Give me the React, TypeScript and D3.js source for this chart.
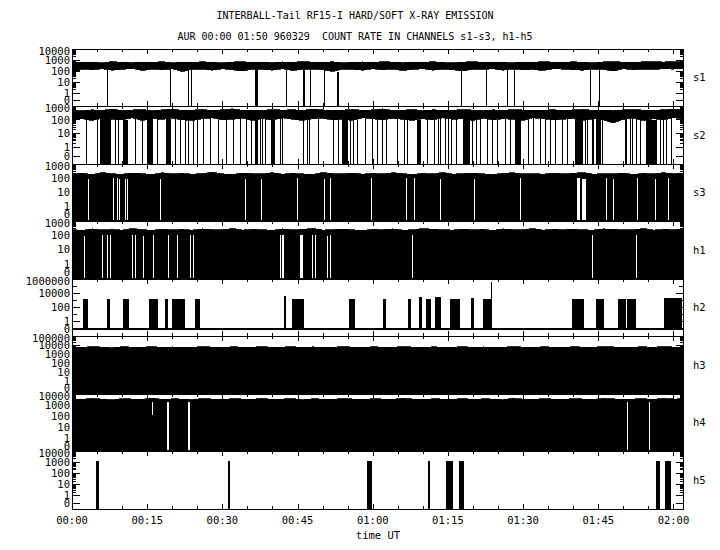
import React from "react";
import * as d3 from "d3";

// ---------- data ----------
const channels = ["s1", "s2", "s3", "h1", "h2", "h3", "h4", "h5"];
const tickLabelsX = ["00:00", "00:15", "00:30", "00:45", "01:00", "01:15", "01:30", "01:45", "02:00"];
const tickMinutesX = [0, 15, 30, 45, 60, 75, 90, 105, 120];
const T_END = 122.1; // minutes
const BIN = 2; // minutes per envelope sample

const yTicksS1 = [0, 1, 10, 100, 1000, 10000];
const yTicksS2 = [0, 1, 10, 100, 1000];
const yTicksS3 = [0, 1, 10, 100, 1000];
const yTicksH1 = [0, 1, 10, 100, 1000];
const yTicksH2 = [0, 1, 100, 10000, 1000000];
const yTicksH3 = [0, 1, 10, 100, 1000, 10000, 100000];
const yTicksH4 = [0, 1, 10, 100, 1000, 10000];
const yTicksH5 = [0, 1, 10, 100, 1000, 10000];

// s1: noisy band (upper / lower envelope, counts, every 2 min)
const s1Hi = [700, 600, 650, 550, 700, 620, 580, 650, 600, 700, 560, 640, 600, 680, 620, 560, 650, 700, 600, 640, 580, 660, 620, 700, 640, 600, 680, 560, 620, 660, 600, 700, 640, 580, 650, 620, 680, 600, 560, 640, 700, 620, 660, 600, 580, 650, 620, 700, 640, 600, 680, 620, 560, 660, 700, 640, 600, 680, 720, 650, 700, 680];
const s1Lo = [60, 150, 130, 160, 120, 140, 170, 110, 150, 130, 160, 90, 140, 150, 120, 160, 130, 100, 150, 140, 120, 160, 110, 140, 150, 130, 90, 150, 140, 120, 160, 130, 150, 110, 140, 160, 120, 150, 130, 100, 150, 140, 160, 120, 150, 130, 140, 110, 160, 150, 130, 120, 150, 140, 100, 160, 130, 150, 140, 160, 150, 170];
// s1 drop-outs to zero: [start, end] minutes
const s1Drops = [[7.0, 7.0], [19.6, 19.6], [23.1, 23.1], [23.7, 23.7], [36.6, 37.0], [42.6, 42.6], [46.0, 46.3], [47.5, 47.5], [50.3, 50.3], [52.8, 53.1], [77.7, 77.7], [82.6, 82.6], [86.8, 86.8], [88.2, 88.2], [103.4, 103.4], [105.2, 105.2]];

// s2: noisy band + many drop-outs
const s2Hi = [500, 450, 520, 480, 600, 470, 510, 550, 460, 520, 600, 480, 500, 560, 470, 530, 620, 490, 510, 470, 560, 500, 530, 480, 600, 520, 470, 500, 560, 490, 520, 610, 480, 500, 540, 470, 520, 500, 480, 560, 500, 470, 520, 490, 540, 510, 480, 500, 530, 470, 520, 560, 480, 500, 470, 520, 560, 500, 480, 530, 600, 520];
const s2Lo = [100, 120, 90, 130, 110, 100, 140, 90, 120, 110, 130, 100, 90, 120, 140, 100, 110, 130, 90, 120, 100, 140, 110, 90, 120, 130, 100, 110, 90, 140, 120, 100, 130, 110, 90, 120, 100, 140, 110, 120, 90, 130, 100, 120, 110, 90, 140, 120, 100, 110, 130, 90, 120, 100, 60, 110, 130, 90, 120, 100, 140, 120];
const s2Drops = [[2.7, 2.7], [4.9, 4.9], [5.6, 7.6], [8.6, 8.6], [9.2, 9.2], [10.2, 11.0], [12.6, 12.6], [13.9, 13.9], [14.9, 14.9], [15.2, 16.0], [16.9, 16.9], [18.7, 19.5], [20.5, 20.5], [21.5, 21.5], [22.5, 22.5], [23.1, 23.1], [24.1, 24.1], [24.9, 24.9], [26.1, 26.1], [27.5, 27.5], [29.1, 29.1], [30.7, 30.7], [32.1, 32.1], [33.5, 33.5], [34.7, 34.7], [35.7, 35.7], [36.5, 36.9], [37.5, 37.5], [38.0, 38.0], [38.6, 38.6], [39.8, 40.5], [41.5, 41.5], [41.8, 41.8], [46.0, 46.0], [46.9, 46.9], [47.3, 47.3], [49.1, 49.1], [52.1, 52.1], [53.0, 53.0], [53.8, 54.8], [55.5, 55.5], [56.1, 56.1], [56.8, 56.8], [58.4, 58.4], [59.8, 59.8], [60.9, 60.9], [61.8, 61.8], [62.6, 62.6], [64.8, 64.8], [66.3, 66.3], [66.8, 66.8], [68.9, 69.6], [70.8, 70.8], [72.3, 72.3], [73.1, 73.1], [73.4, 73.4], [74.4, 74.4], [75.1, 75.1], [75.7, 75.7], [76.7, 76.7], [78.1, 79.4], [79.9, 79.9], [80.7, 80.7], [81.4, 81.4], [82.8, 82.8], [83.7, 83.7], [84.7, 84.7], [86.4, 86.4], [87.4, 87.4], [88.4, 89.4], [90.9, 90.9], [92.0, 92.0], [93.4, 93.4], [94.4, 94.4], [95.3, 95.3], [96.3, 96.3], [97.7, 97.7], [98.7, 98.7], [100.3, 101.7], [102.3, 102.3], [102.8, 102.8], [103.7, 104.0], [104.5, 105.3], [105.7, 105.7], [110.3, 110.3], [110.6, 110.6], [111.3, 111.3], [111.8, 111.8], [112.5, 112.5], [113.3, 113.3], [114.6, 116.6], [117.3, 117.3], [117.9, 117.9], [118.6, 118.6], [119.6, 119.6]];

// s3: dense 0..top oscillation (filled), upper envelope and solid level, white gaps
const s3Hi = [200, 220, 180, 250, 200, 190, 230, 210, 180, 240, 200, 220, 190, 210, 260, 200, 180, 230, 210, 200, 240, 190, 220, 200, 180, 250, 210, 200, 230, 190, 220, 200, 240, 210, 180, 220, 200, 250, 190, 210, 230, 200, 180, 220, 240, 200, 210, 190, 230, 200, 220, 250, 190, 210, 200, 230, 180, 220, 200, 240, 210, 220];
const s3Lo = [90, 100, 85, 95, 100, 90, 95, 100, 85, 90, 100, 95, 90, 100, 85, 95, 100, 90, 95, 85, 100, 90, 95, 100, 90, 85, 100, 95, 90, 100, 95, 85, 90, 100, 95, 90, 100, 85, 95, 100, 90, 95, 85, 100, 90, 95, 100, 90, 85, 95, 100, 90, 95, 100, 85, 90, 95, 100, 90, 95, 100, 95];
const s3Gaps = [[3.1, 3.1], [8.2, 8.2], [8.9, 8.9], [9.4, 9.4], [10.6, 10.6], [10.9, 10.9], [17.6, 17.6], [34.6, 34.6], [37.8, 37.8], [44.8, 44.8], [50.3, 50.3], [51.5, 51.5], [59.6, 59.6], [66.6, 66.6], [68.2, 68.2], [73.4, 73.4], [80.2, 80.2], [89.4, 89.4], [100.8, 101.2], [101.7, 102.3], [106.5, 106.5], [108.0, 108.0], [112.8, 112.8], [116.4, 116.4], [118.9, 118.9]];

// h1
const h1Hi = [250, 220, 280, 240, 260, 230, 300, 250, 220, 270, 240, 260, 230, 280, 250, 240, 300, 230, 260, 250, 220, 280, 240, 260, 300, 230, 250, 270, 240, 220, 260, 250, 280, 230, 240, 300, 260, 250, 230, 270, 240, 260, 220, 280, 250, 240, 300, 230, 260, 250, 270, 240, 230, 280, 260, 250, 240, 300, 230, 260, 250, 270];
const h1Lo = [100, 95, 105, 100, 98, 102, 100, 96, 104, 100, 98, 100, 102, 96, 100, 104, 98, 100, 100, 96, 102, 100, 98, 104, 100, 96, 100, 102, 98, 100, 104, 96, 100, 100, 98, 102, 100, 96, 104, 100, 98, 100, 102, 96, 100, 104, 98, 100, 100, 96, 102, 100, 98, 104, 100, 96, 100, 102, 98, 100, 104, 100];
const h1Gaps = [[2.4, 2.4], [5.9, 5.9], [6.9, 6.9], [7.6, 7.6], [11.9, 11.9], [12.6, 12.6], [14.2, 14.2], [16.2, 16.2], [19.2, 19.2], [20.9, 20.9], [23.5, 23.5], [24.2, 24.2], [41.5, 41.5], [41.8, 41.8], [42.1, 42.1], [45.5, 46.0], [47.8, 47.8], [48.5, 48.5], [50.8, 50.8], [51.5, 51.5], [67.8, 67.8], [103.7, 103.7], [112.6, 112.6]];

// h2: mostly zero, bursts [start, end] minutes with peak level
const h2Bursts = [[2.1, 3.1], [6.9, 7.6], [10.2, 11.3], [15.4, 17.2], [18.6, 19.2], [19.9, 22.5], [24.5, 25.5], [42.3, 42.6], [43.8, 46.3], [55.3, 56.5], [62.1, 62.6], [67.0, 67.6], [69.3, 69.8], [70.6, 71.6], [72.4, 73.6], [75.4, 77.4], [79.6, 80.2], [82.0, 83.8], [99.7, 102.1], [104.5, 106.1], [109.0, 110.5], [110.8, 112.5], [118.1, 121.8]];
const h2BurstPeak = [1400, 1400, 1400, 1400, 1400, 1400, 1400, 3500, 1400, 1400, 1400, 1400, 2500, 1400, 2500, 1400, 2000, 1400, 1400, 1400, 1400, 1400, 1800];
const h2Spike = [83.7, 400000];

// h3
const h3Hi = [6000, 5500, 7000, 6000, 5200, 6500, 6000, 5800, 7000, 5500, 6200, 6000, 5600, 6800, 6000, 5400, 6400, 6000, 5800, 7000, 5600, 6000, 6600, 5500, 6200, 6000, 5800, 6800, 6000, 5500, 6400, 6000, 5700, 7000, 6000, 5600, 6300, 6000, 5800, 6800, 5500, 6200, 6000, 5600, 7000, 6000, 5800, 6400, 6000, 5500, 6600, 6000, 5800, 7000, 6200, 5600, 6000, 6400, 5800, 7000, 6000, 6200];
const h3Lo = [3500, 3400, 3600, 3500, 3300, 3500, 3600, 3400, 3500, 3500, 3300, 3600, 3500, 3400, 3500, 3600, 3500, 3300, 3500, 3400, 3600, 3500, 3500, 3300, 3600, 3500, 3400, 3500, 3600, 3500, 3300, 3500, 3400, 3600, 3500, 3500, 3300, 3600, 3500, 3400, 3500, 3600, 3500, 3300, 3500, 3400, 3600, 3500, 3500, 3300, 3600, 3500, 3400, 3500, 3600, 3500, 3300, 3500, 3400, 3600, 3500, 3500];

// h4
const h4Hi = [3500, 3200, 4000, 3400, 3000, 3800, 3500, 3300, 4200, 3200, 3600, 3500, 3100, 3900, 3500, 3200, 3700, 3500, 3300, 4000, 3200, 3500, 3800, 3100, 3600, 3500, 3300, 3900, 3500, 3200, 3700, 3500, 3300, 4100, 3500, 3200, 3600, 3500, 3300, 3900, 3200, 3600, 3500, 3100, 4000, 3500, 3300, 3700, 3500, 3200, 3800, 3500, 3300, 4000, 3600, 3200, 3500, 3700, 3300, 4000, 3500, 3600];
const h4Lo = [1900, 1800, 2000, 1900, 1800, 1900, 2000, 1800, 1900, 1900, 1800, 2000, 1900, 1800, 1900, 2000, 1900, 1800, 1900, 1800, 2000, 1900, 1900, 1800, 2000, 1900, 1800, 1900, 2000, 1900, 1800, 1900, 1800, 2000, 1900, 1900, 1800, 2000, 1900, 1800, 1900, 2000, 1900, 1800, 1900, 1800, 2000, 1900, 1900, 1800, 2000, 1900, 1800, 1900, 2000, 1900, 1800, 1900, 1800, 2000, 1900, 1900];
const h4Gaps = [[18.9, 19.2], [23.2, 23.5], [110.8, 110.8], [115.2, 115.2]];
const h4Dips = [[15.9, 120]]; // [minute, level reached]

// h5: bursts only
const h5Bursts = [[4.8, 5.3], [31.1, 31.5], [58.8, 59.8], [71.0, 71.4], [74.6, 76.0], [77.2, 78.2], [116.6, 117.4], [118.3, 119.5]];
const h5BurstPeak = [1300, 1300, 1300, 1300, 1300, 1300, 1300, 1300];

// ---------- layout ----------
const X0 = 72, X1 = 684;
const panelTops = [49, 106, 164, 221, 279, 336, 394, 451, 509];
const oneOffset = [13, 16.5, 14.5, 15, 15, 12.5, 12.7, 13.3];
const zeroOffset = [6, 8, 6.5, 6.5, 7, 6, 5, 6];
const FONT = "'DejaVu Sans Mono', monospace";

const channelTicks = [yTicksS1, yTicksS2, yTicksS3, yTicksH1, yTicksH2, yTicksH3, yTicksH4, yTicksH5];

const x = d3.scaleLinear().domain([0, T_END]).range([X0, X1]);

function makeY(i: number) {
  const top = panelTops[i];
  const bottom = panelTops[i + 1];
  const ticks = channelTicks[i];
  const max = ticks[ticks.length - 1];
  const log = d3.scaleLog().domain([1, max]).range([bottom - oneOffset[i], top]);
  const zeroY = bottom - zeroOffset[i];
  const f = (v: number) => (v <= 0 ? zeroY : log(v));
  return { f, log, top, bottom, max, zeroY };
}

function bandPath(lo: number[], hi: number[], y: (v: number) => number) {
  const idx = d3.range(hi.length);
  return d3
    .area<number>()
    .x((i) => x(i * BIN))
    .y0((i) => y(lo[i]))
    .y1((i) => y(hi[i]))
    .curve(d3.curveLinear)(idx) as string;
}

function fillPath(hi: number[], y: (v: number) => number, bottom: number) {
  const idx = d3.range(hi.length);
  return d3
    .area<number>()
    .x((i) => x(i * BIN))
    .y0(bottom)
    .y1((i) => y(hi[i]))
    .curve(d3.curveLinear)(idx) as string;
}

function interp(arr: number[], t: number) {
  const k = Math.min(arr.length - 1, Math.max(0, Math.round(t / BIN)));
  return arr[k];
}

function Panel({ i }: { i: number }) {
  const { f: y, log, top, bottom, max } = makeY(i);
  const name = channels[i];
  const clipId = `clip-${name}`;
  const marks: React.ReactNode[] = [];

  if (name === "s1" || name === "s2") {
    const hi = name === "s1" ? s1Hi : s2Hi;
    const lo = name === "s1" ? s1Lo : s2Lo;
    const drops = name === "s1" ? s1Drops : s2Drops;
    marks.push(<path key="band" d={bandPath(lo, hi, y)} fill="#000" stroke="#000" strokeWidth={0.8} />);
    drops.forEach((d, k) => {
      const xa = x(d[0]);
      const xb = x(d[1]);
      const yT = y(interp(lo, d[0]));
      marks.push(
        <rect key={`d${k}`} x={Math.round(xa) - 0.5} y={yT} width={Math.max(1.2, xb - xa + 1)} height={bottom - yT} fill="#000" />
      );
    });
  } else if (name === "s3" || name === "h1" || name === "h3" || name === "h4") {
    const hi = name === "s3" ? s3Hi : name === "h1" ? h1Hi : name === "h3" ? h3Hi : h4Hi;
    const lo = name === "s3" ? s3Lo : name === "h1" ? h1Lo : name === "h3" ? h3Lo : h4Lo;
    const gaps = name === "s3" ? s3Gaps : name === "h1" ? h1Gaps : name === "h4" ? h4Gaps : [];
    marks.push(<path key="fill" d={fillPath(hi, y, bottom)} fill="#000" stroke="#000" strokeWidth={0.8} />);
    gaps.forEach((g, k) => {
      const xa = x(g[0]);
      const xb = x(g[1]);
      const yT = y(interp(lo, g[0]));
      marks.push(
        <rect key={`g${k}`} x={Math.round(xa) - 0.5} y={yT} width={Math.max(1.4, xb - xa + 1)} height={bottom - yT - 1} fill="#fff" />
      );
    });
    if (name === "h4") {
      h4Dips.forEach((d, k) => {
        const yT = y(interp(lo, d[0]));
        marks.push(<rect key={`dp${k}`} x={Math.round(x(d[0])) - 0.5} y={yT} width={1.4} height={y(d[1]) - yT} fill="#fff" />);
      });
    }
  } else if (name === "h2" || name === "h5") {
    const bursts = name === "h2" ? h2Bursts : h5Bursts;
    const peaks = name === "h2" ? h2BurstPeak : h5BurstPeak;
    const base = name === "h2" ? y(0) : bottom;
    if (name === "h2") {
      marks.push(<line key="zero" x1={X0} x2={X1} y1={y(0)} y2={y(0)} stroke="#000" strokeWidth={1.6} />);
    }
    bursts.forEach((b, k) => {
      const xa = x(b[0]);
      const xb = x(b[1]);
      const yT = y(peaks[k]);
      marks.push(<rect key={`b${k}`} x={xa} y={yT} width={Math.max(1.5, xb - xa)} height={base - yT} fill="#000" />);
    });
    if (name === "h2") {
      marks.push(
        <line key="spike" x1={x(h2Spike[0])} x2={x(h2Spike[0])} y1={y(h2Spike[1])} y2={base} stroke="#000" strokeWidth={1} />
      );
    }
  }

  // y ticks
  const ticks = channelTicks[i];
  const decades = Math.round(Math.log10(max));
  const yTickEls: React.ReactNode[] = [];
  for (let k = 0; k <= decades; k++) {
    const v = Math.pow(10, k);
    const labeled = ticks.includes(v);
    const len = labeled ? 8 : 5;
    const yy = log(v);
    yTickEls.push(<line key={`M${k}`} x1={X0} x2={X0 + len} y1={yy} y2={yy} />);
    yTickEls.push(<line key={`MR${k}`} x1={X1} x2={X1 - len} y1={yy} y2={yy} />);
    if (k < decades && name !== "h2") {
      for (let m = 2; m <= 9; m++) {
        const ym = log(m * v);
        yTickEls.push(<line key={`m${k}-${m}`} x1={X0} x2={X0 + 4} y1={ym} y2={ym} />);
        yTickEls.push(<line key={`mR${k}-${m}`} x1={X1} x2={X1 - 4} y1={ym} y2={ym} />);
      }
    }
  }
  yTickEls.push(<line key="z" x1={X0} x2={X0 + 8} y1={y(0)} y2={y(0)} />);
  yTickEls.push(<line key="zR" x1={X1} x2={X1 - 8} y1={y(0)} y2={y(0)} />);

  // x ticks (every 5 min, major every 15)
  const xTickEls: React.ReactNode[] = [];
  d3.range(0, T_END, 5).forEach((t) => {
    const major = tickMinutesX.includes(t);
    const len = major ? 5 : 3;
    const xx = Math.round(x(t)) + 0.5;
    xTickEls.push(<line key={`t${t}`} x1={xx} x2={xx} y1={top} y2={top + len} />);
    xTickEls.push(<line key={`b${t}`} x1={xx} x2={xx} y1={bottom} y2={bottom - len} />);
  });

  return (
    <g>
      <defs>
        <clipPath id={clipId}>
          <rect x={X0} y={top} width={X1 - X0} height={bottom - top} />
        </clipPath>
      </defs>
      <g clipPath={`url(#${clipId})`} shapeRendering="crispEdges">{marks}</g>
      <g stroke="#000" strokeWidth={1} shapeRendering="crispEdges">
        {yTickEls}
        {xTickEls}
        <rect x={X0 + 0.5} y={top + 0.5} width={X1 - X0 - 1} height={bottom - top} fill="none" />
      </g>
      <g fontFamily={FONT} fontSize={10.5} fill="#000">
        {ticks.map((v, k) => {
          let yy = y(v);
          if (k === ticks.length - 1) yy += 2.5;
          return (
            <text key={`l${k}`} x={70} y={yy} dy="0.36em" textAnchor="end">
              {String(v)}
            </text>
          );
        })}
        <text x={693} y={(top + bottom) / 2} dy="0.36em">
          {name}
        </text>
      </g>
    </g>
  );
}

export default function App() {
  return (
    <svg width={720} height={550} style={{ display: "block", background: "#fff", position: "absolute", left: 0, top: 0 }}>
      <rect x={0} y={0} width={720} height={550} fill="#fff" />
      <g fontFamily={FONT} fontSize={10} fill="#000" textAnchor="middle">
        <text x={355} y={15} dy="0.36em">INTERBALL-Tail RF15-I HARD/SOFT X-RAY EMISSION</text>
        <text x={355} y={36} dy="0.36em" style={{ whiteSpace: "pre" }}>{"AUR 00:00 01:50 960329  COUNT RATE IN CHANNELS s1-s3, h1-h5"}</text>
      </g>
      {channels.map((c, i) => (
        <Panel key={c} i={i} />
      ))}
      <g fontFamily={FONT} fontSize={10.5} fill="#000" textAnchor="middle">
        {tickMinutesX.map((t, k) => (
          <text key={t} x={x(t)} y={520} dy="0.36em">
            {tickLabelsX[k]}
          </text>
        ))}
        <text x={(X0 + X1) / 2} y={535} dy="0.36em">time UT</text>
      </g>
    </svg>
  );
}
